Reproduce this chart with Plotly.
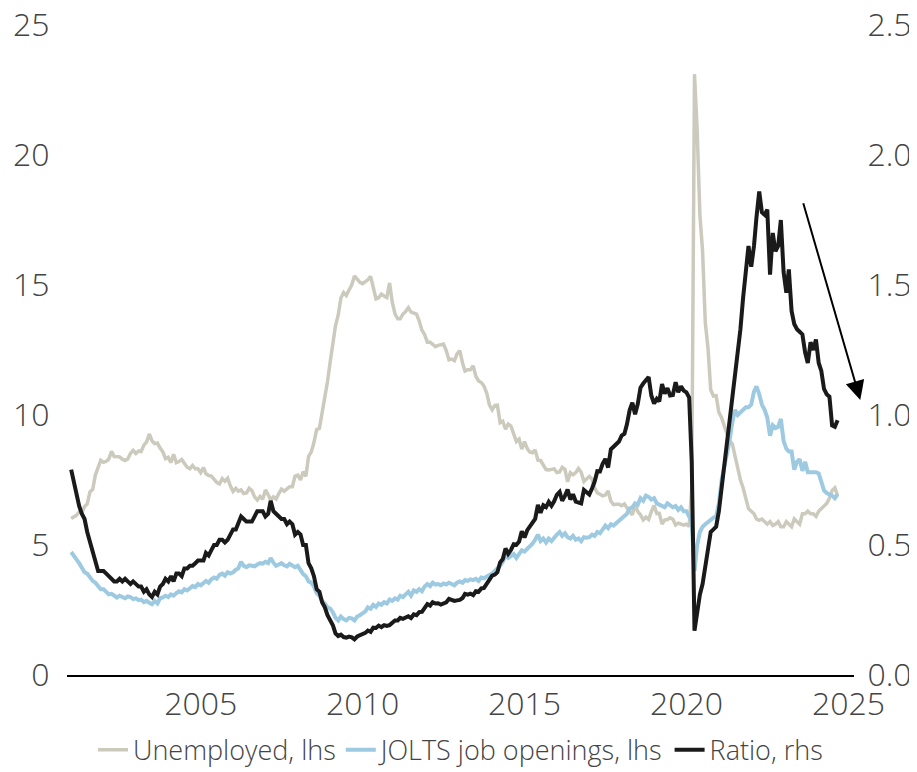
import pandas as pd
import plotly.graph_objects as go

# Monthly values, Jan 2001 - Sep 2024 (millions / ratio)
UNEMPLOYED = [
    6.02, 6.09, 6.14, 6.27, 6.23, 6.48, 6.58, 7.04, 7.14, 7.69, 8.00, 8.26,  # 2001
    8.18, 8.22, 8.30, 8.60, 8.40, 8.39, 8.39, 8.30, 8.25, 8.31, 8.52, 8.64,  # 2002
    8.52, 8.62, 8.59, 8.84, 8.96, 9.27, 9.01, 8.90, 8.92, 8.73, 8.58, 8.32,  # 2003
    8.37, 8.17, 8.49, 8.17, 8.21, 8.29, 8.14, 7.99, 7.93, 8.06, 7.93, 7.93,  # 2004
    7.78, 7.98, 7.74, 7.67, 7.65, 7.52, 7.41, 7.35, 7.55, 7.45, 7.57, 7.28,  # 2005
    7.06, 7.18, 7.07, 7.12, 6.98, 7.00, 7.18, 7.09, 6.85, 6.73, 6.87, 6.76,  # 2006
    7.12, 6.93, 6.73, 6.85, 6.77, 6.98, 7.15, 7.07, 7.17, 7.24, 7.24, 7.65,  # 2007
    7.69, 7.50, 7.82, 7.64, 8.40, 8.58, 8.94, 9.44, 9.49, 10.07, 10.54, 11.29,  # 2008
    12.06, 12.90, 13.43, 13.85, 14.50, 14.71, 14.60, 14.81, 15.01, 15.35, 15.22, 15.10,  # 2009
    15.05, 15.11, 15.20, 15.33, 14.85, 14.47, 14.51, 14.65, 14.58, 14.52, 15.08, 14.35,  # 2010
    13.89, 13.70, 13.70, 13.88, 13.98, 14.13, 13.96, 13.92, 13.88, 13.62, 13.26, 13.10,  # 2011
    12.80, 12.80, 12.70, 12.63, 12.68, 12.72, 12.73, 12.48, 12.12, 12.15, 12.09, 12.35,  # 2012
    12.48, 12.00, 11.69, 11.74, 11.74, 11.89, 11.49, 11.31, 11.25, 11.11, 10.84, 10.39,  # 2013
    10.20, 10.37, 10.38, 9.70, 9.76, 9.45, 9.65, 9.57, 9.24, 8.98, 9.07, 8.69,  # 2014
    8.98, 8.71, 8.58, 8.55, 8.66, 8.26, 8.25, 8.04, 7.90, 7.89, 7.91, 7.93,  # 2015
    7.79, 7.81, 7.99, 7.91, 7.43, 7.78, 7.70, 7.79, 7.94, 7.80, 7.44, 7.52,  # 2016
    7.64, 7.53, 7.20, 7.01, 6.96, 6.89, 6.92, 7.08, 6.68, 6.55, 6.57, 6.57,  # 2017
    6.51, 6.58, 6.43, 6.28, 6.16, 6.58, 6.28, 6.16, 5.97, 6.07, 5.98, 6.28,  # 2018
    6.52, 6.21, 6.22, 5.81, 5.96, 5.98, 6.05, 5.99, 5.77, 5.84, 5.81, 5.76,  # 2019
    5.80, 5.72, 7.19, 23.11, 20.98, 17.70, 16.31, 13.54, 12.54, 10.97, 10.73, 10.74,  # 2020
    10.10, 9.90, 9.60, 9.30, 9.00, 8.90, 8.40, 7.90, 7.50, 7.20, 6.80, 6.40,  # 2021
    6.30, 6.20, 6.00, 5.95, 6.00, 5.90, 5.80, 5.90, 5.75, 5.80, 5.90, 5.70,  # 2022
    5.70, 5.90, 5.80, 5.70, 6.00, 5.90, 5.80, 6.20, 6.20, 6.30, 6.20, 6.20,  # 2023
    6.10, 6.30, 6.40, 6.50, 6.60, 6.80, 7.10, 7.20, 6.90,  # 2024
]

JOB_OPENINGS = [
    4.73, 4.55, 4.45, 4.30, 4.10, 3.95, 3.90, 3.75, 3.62, 3.55, 3.40, 3.30,  # 2001
    3.30, 3.20, 3.10, 3.12, 3.05, 2.98, 3.05, 3.00, 2.95, 3.02, 3.00, 2.92,  # 2002
    2.95, 2.88, 2.90, 2.80, 2.85, 2.78, 2.72, 2.85, 2.75, 2.95, 2.98, 3.05,  # 2003
    3.00, 3.10, 3.05, 3.15, 3.22, 3.18, 3.30, 3.25, 3.35, 3.42, 3.38, 3.50,  # 2004
    3.45, 3.55, 3.62, 3.55, 3.68, 3.75, 3.70, 3.85, 3.90, 3.82, 3.95, 3.90,  # 2005
    3.95, 4.05, 4.10, 4.35, 4.20, 4.15, 4.22, 4.20, 4.18, 4.25, 4.30, 4.28,  # 2006
    4.35, 4.30, 4.50, 4.32, 4.20, 4.25, 4.30, 4.22, 4.18, 4.28, 4.20, 4.15,  # 2007
    4.20, 4.05, 3.88, 3.80, 3.60, 3.55, 3.40, 3.15, 3.05, 2.85, 2.75, 2.60,  # 2008
    2.55, 2.40, 2.20, 2.10, 2.25, 2.15, 2.10, 2.20, 2.18, 2.10, 2.25, 2.30,  # 2009
    2.40, 2.45, 2.60, 2.55, 2.70, 2.62, 2.75, 2.70, 2.80, 2.75, 2.90, 2.85,  # 2010
    2.95, 2.90, 3.05, 3.00, 3.10, 3.20, 3.05, 3.25, 3.20, 3.30, 3.22, 3.40,  # 2011
    3.50, 3.42, 3.55, 3.48, 3.50, 3.45, 3.52, 3.48, 3.55, 3.50, 3.45, 3.55,  # 2012
    3.60, 3.55, 3.65, 3.62, 3.68, 3.65, 3.70, 3.62, 3.75, 3.72, 3.80, 3.85,  # 2013
    3.90, 4.00, 4.10, 4.20, 4.35, 4.60, 4.50, 4.60, 4.65, 4.50, 4.65, 4.80,  # 2014
    4.75, 4.85, 4.90, 5.05, 5.20, 5.40, 5.15, 5.25, 5.10, 5.25, 5.15, 5.30,  # 2015
    5.40, 5.50, 5.35, 5.45, 5.30, 5.25, 5.35, 5.20, 5.25, 5.15, 5.30, 5.28,  # 2016
    5.30, 5.40, 5.35, 5.50, 5.45, 5.60, 5.75, 5.65, 5.80, 5.75, 5.85, 5.90,  # 2017
    6.00, 6.10, 6.20, 6.40, 6.45, 6.60, 6.55, 6.80, 6.70, 6.90, 6.85, 6.75,  # 2018
    6.80, 6.60, 6.55, 6.50, 6.45, 6.60, 6.50, 6.45, 6.50, 6.35, 6.45, 6.30,  # 2019
    6.30, 6.10, 5.90, 4.00, 5.00, 5.50, 5.70, 5.80, 5.90, 6.00, 6.05, 6.10,  # 2020
    6.60, 7.50, 8.00, 8.40, 9.00, 9.70, 10.20, 10.00, 10.10, 10.20, 10.30, 10.30,  # 2021
    10.40, 10.90, 11.10, 10.80, 10.40, 10.20, 9.90, 9.20, 9.60, 9.50, 9.55, 9.85,  # 2022
    9.00, 8.70, 8.60, 8.60, 7.90, 8.20, 8.30, 7.85, 8.20, 7.80, 7.80, 7.80,  # 2023
    7.80, 7.75, 7.40, 7.10, 7.00, 6.95, 6.90, 6.80, 6.95,  # 2024
]

RATIO = [
    0.79, 0.74, 0.70, 0.65, 0.62, 0.60, 0.55, 0.51, 0.47, 0.43, 0.40, 0.40,  # 2001
    0.40, 0.39, 0.38, 0.37, 0.36, 0.36, 0.37, 0.36, 0.37, 0.36, 0.35, 0.36,  # 2002
    0.35, 0.34, 0.34, 0.32, 0.33, 0.31, 0.30, 0.32, 0.31, 0.34, 0.35, 0.37,  # 2003
    0.36, 0.38, 0.36, 0.39, 0.39, 0.38, 0.41, 0.41, 0.42, 0.42, 0.43, 0.44,  # 2004
    0.44, 0.44, 0.47, 0.46, 0.48, 0.50, 0.50, 0.52, 0.52, 0.51, 0.52, 0.54,  # 2005
    0.56, 0.56, 0.58, 0.61, 0.60, 0.59, 0.59, 0.59, 0.61, 0.63, 0.63, 0.63,  # 2006
    0.61, 0.62, 0.67, 0.63, 0.62, 0.61, 0.60, 0.60, 0.58, 0.59, 0.58, 0.54,  # 2007
    0.55, 0.54, 0.50, 0.50, 0.43, 0.41, 0.38, 0.33, 0.32, 0.28, 0.26, 0.23,  # 2008
    0.21, 0.19, 0.16, 0.150, 0.155, 0.146, 0.144, 0.148, 0.145, 0.137, 0.148, 0.152,  # 2009
    0.160, 0.162, 0.171, 0.166, 0.182, 0.181, 0.190, 0.184, 0.192, 0.189, 0.192, 0.199,  # 2010
    0.210, 0.210, 0.220, 0.216, 0.222, 0.226, 0.219, 0.233, 0.230, 0.242, 0.243, 0.260,  # 2011
    0.273, 0.267, 0.280, 0.275, 0.276, 0.271, 0.277, 0.279, 0.293, 0.288, 0.285, 0.287,  # 2012
    0.289, 0.296, 0.312, 0.309, 0.313, 0.307, 0.322, 0.320, 0.333, 0.335, 0.351, 0.370,  # 2013
    0.382, 0.386, 0.395, 0.433, 0.446, 0.487, 0.466, 0.481, 0.503, 0.501, 0.513, 0.553,  # 2014
    0.529, 0.557, 0.571, 0.591, 0.600, 0.654, 0.624, 0.653, 0.646, 0.666, 0.651, 0.668,  # 2015
    0.693, 0.704, 0.670, 0.689, 0.713, 0.675, 0.695, 0.667, 0.662, 0.660, 0.712, 0.702,  # 2016
    0.694, 0.718, 0.743, 0.784, 0.783, 0.813, 0.831, 0.798, 0.868, 0.878, 0.890, 0.898,  # 2017
    0.921, 0.928, 0.964, 1.019, 1.047, 1.003, 1.042, 1.105, 1.121, 1.136, 1.146, 1.075,  # 2018
    1.044, 1.062, 1.052, 1.119, 1.082, 1.103, 1.075, 1.077, 1.126, 1.088, 1.110, 1.094,  # 2019
    1.087, 1.067, 0.82, 0.17, 0.25, 0.31, 0.35, 0.42, 0.50, 0.55, 0.56, 0.57,  # 2020
    0.63, 0.72, 0.80, 0.88, 0.96, 1.05, 1.16, 1.22, 1.33, 1.45, 1.55, 1.65,  # 2021
    1.57, 1.65, 1.76, 1.86, 1.78, 1.77, 1.79, 1.54, 1.70, 1.63, 1.65, 1.75,  # 2022
    1.55, 1.47, 1.56, 1.40, 1.35, 1.33, 1.32, 1.31, 1.24, 1.20, 1.28, 1.25,  # 2023
    1.29, 1.20, 1.17, 1.10, 1.08, 1.07, 0.96, 0.955, 0.98,  # 2024
]

MONTHS = pd.date_range("2001-01-01", periods=len(UNEMPLOYED), freq="MS")

YEAR_TICKS = ["2005-01-01", "2010-01-01", "2015-01-01", "2020-01-01", "2025-01-01"]
YEAR_LABELS = ["2005", "2010", "2015", "2020", "2025"]
LEFT_TICKS = [0, 5, 10, 15, 20, 25]
RIGHT_TICKS = [0.0, 0.5, 1.0, 1.5, 2.0, 2.5]

FONT = "Open Sans, Liberation Sans, sans-serif"
TEXT_COLOR = "#444444"

fig = go.Figure()

fig.add_trace(
    go.Scatter(
        x=MONTHS,
        y=UNEMPLOYED,
        mode="lines",
        line=dict(color="#CCCABD", width=3.5),
        name="Unemployed, lhs",
    )
)
fig.add_trace(
    go.Scatter(
        x=MONTHS,
        y=JOB_OPENINGS,
        mode="lines",
        line=dict(color="#9ECAE1", width=4),
        name="JOLTS job openings, lhs",
    )
)
fig.add_trace(
    go.Scatter(
        x=MONTHS,
        y=RATIO,
        mode="lines",
        line=dict(color="#1A1A1A", width=4),
        name="Ratio, rhs",
        yaxis="y2",
    )
)

# downward arrow next to the latest ratio readings
fig.add_annotation(
    xref="x domain",
    yref="y2",
    x=1.008,
    y=1.058,
    axref="x domain",
    ayref="y2",
    ax=0.935,
    ay=1.82,
    showarrow=True,
    arrowhead=2,
    arrowsize=1.9,
    arrowwidth=2,
    arrowcolor="black",
    text="",
)

# the page body adds an 8px margin, so the figure is sized to fit inside it
fig.update_layout(
    width=909,
    height=764,
    margin=dict(l=59, r=63, t=17, b=97, autoexpand=False),
    plot_bgcolor="white",
    paper_bgcolor="white",
    font=dict(family=FONT, size=32, color=TEXT_COLOR, weight=300),
    showlegend=True,
    legend=dict(
        orientation="h",
        x=0.5,
        xanchor="center",
        y=-0.078,
        yanchor="top",
        font=dict(size=27, color=TEXT_COLOR, weight=300),
        itemwidth=30,
        traceorder="normal",
    ),
    xaxis=dict(
        type="date",
        range=["2000-11-15", "2025-03-05"],
        tickvals=YEAR_TICKS,
        ticktext=YEAR_LABELS,
        showgrid=False,
        zeroline=False,
        showline=True,
        linecolor="black",
        linewidth=1.5,
        ticks="",
        ticklabeloverflow="allow",
    ),
    yaxis=dict(
        range=[0, 25],
        tickvals=LEFT_TICKS,
        showgrid=False,
        zeroline=False,
        ticks="outside",
        ticklen=10,
        tickcolor="rgba(0,0,0,0)",
        ticklabeloverflow="allow",
    ),
    yaxis2=dict(
        range=[0, 2.5],
        tickvals=RIGHT_TICKS,
        tickformat=".1f",
        overlaying="y",
        side="right",
        showgrid=False,
        zeroline=False,
        ticks="outside",
        ticklen=6,
        tickcolor="rgba(0,0,0,0)",
        ticklabeloverflow="allow",
    ),
)

fig.write_html("out.html")
